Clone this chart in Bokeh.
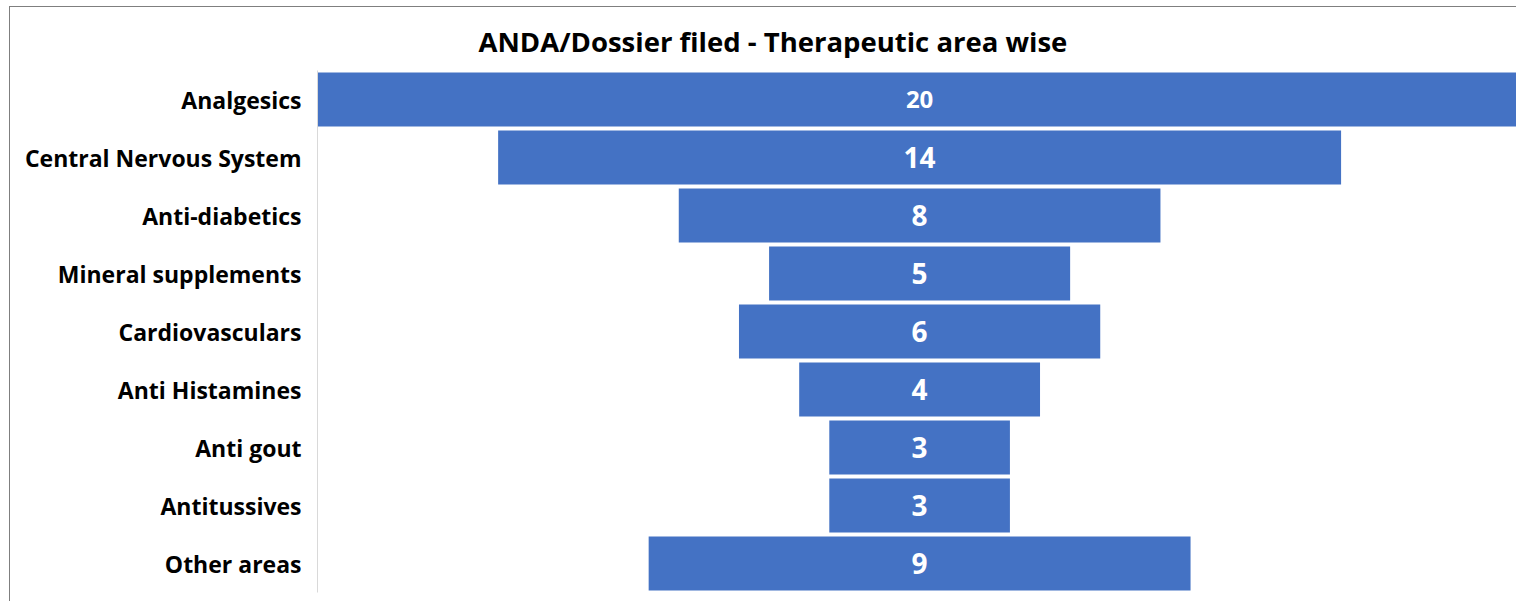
from bokeh.plotting import figure
from bokeh.models import ColumnDataSource, FactorRange, Range1d
from bokeh.core.properties import value
from bokeh.embed import file_html
from bokeh.resources import INLINE

# ---- data ----
title_text = "ANDA/Dossier filed - Therapeutic area wise"
categories = ["Analgesics", "Central Nervous System", "Anti-diabetics",
              "Mineral supplements", "Cardiovasculars", "Anti Histamines",
              "Anti gout", "Antitussives", "Other areas"]
counts = [20, 14, 8, 5, 6, 4, 3, 3, 9]

# ---- styles ----
BLUE = "#4472C4"
FONT = "Open Sans"
label_sizes = ["24px", "28px", "28px", "28px", "28px", "28px", "28px", "28px", "28px"]

src = ColumnDataSource(dict(
    cat=categories,
    val=counts,
    left=[-v / 2 for v in counts],
    right=[v / 2 for v in counts],
    mid=[0] * len(counts),
    txt=[str(v) for v in counts],
    size=label_sizes,
))

p = figure(
    width=1507, height=595,
    y_range=FactorRange(*reversed(categories)),
    x_range=Range1d(-10.0, 9.93),
    output_backend="svg", toolbar_location=None,
    min_border_left=307, min_border_right=0, min_border_bottom=10, min_border_top=63,
    styles={"margin-left": "9px", "margin-top": "6px",
            "border-top": "1px solid #7f7f7f", "border-left": "1px solid #7f7f7f"},
)

p.hbar(y="cat", left="left", right="right", height=0.93, source=src,
       fill_color=BLUE, line_color=None)
p.text(x="mid", y="cat", text="txt", source=src, text_color="white",
       text_font=value(FONT), text_font_style="bold", text_font_size="size",
       text_align="center", text_baseline="middle")

p.title.text = title_text
p.title.text_font = FONT
p.title.text_font_style = "bold"
p.title.text_font_size = "27.5px"
p.title.text_color = "#000000"
p.title.align = "left"
p.title.offset = 161
p.title.standoff = 22

p.xaxis.visible = False
p.xgrid.visible = False
p.ygrid.visible = False
p.yaxis.axis_line_color = "#d9d9d9"
p.yaxis.axis_line_width = 1
p.yaxis.major_tick_line_color = None
p.yaxis.minor_tick_line_color = None
p.yaxis.major_tick_out = 0
p.yaxis.major_label_standoff = 16
p.yaxis.major_label_text_font = FONT
p.yaxis.major_label_text_font_style = "bold"
p.yaxis.major_label_text_font_size = "23px"
p.yaxis.major_label_text_color = "#000000"
p.outline_line_color = None
p.background_fill_color = "white"
p.border_fill_color = "white"

open("out.html", "w").write(file_html(p, INLINE))
